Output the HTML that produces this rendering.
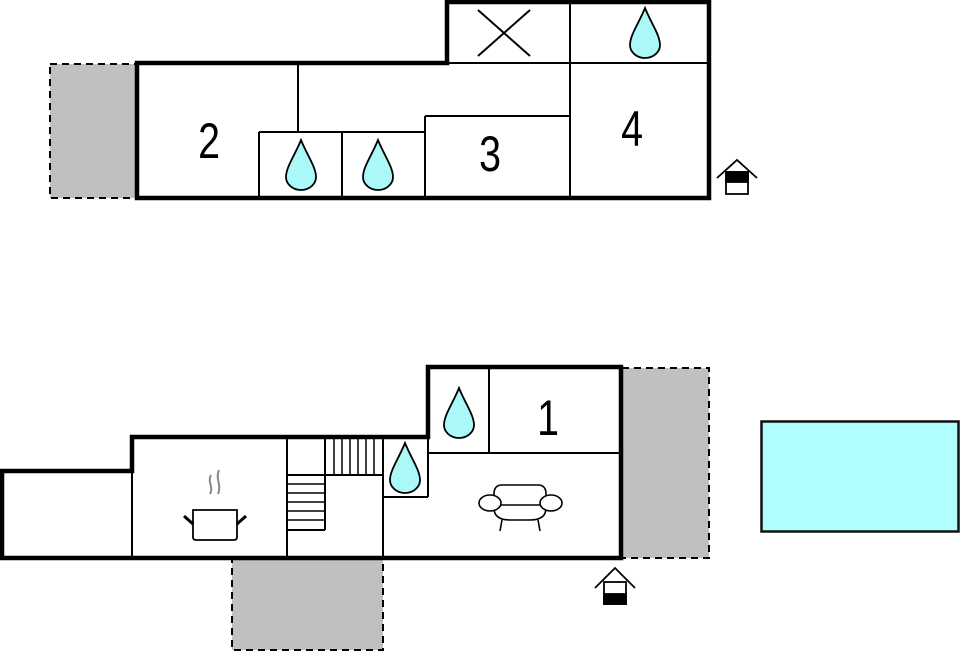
<!DOCTYPE html>
<html><head><meta charset="utf-8"><style>html,body{margin:0;padding:0;background:#fff}svg{display:block}</style></head>
<body>
<svg width="961" height="652" viewBox="0 0 961 652" xmlns="http://www.w3.org/2000/svg">
<defs>
<path id="drop" d="M0,-25 C-6,-10 -15,2 -15,12 A15,13 0 0 0 15,12 C15,2 6,-10 0,-25 Z" fill="#aaf8f8" stroke="#000" stroke-width="1.8"/>
</defs>
<!-- TOP -->
<rect x="50" y="64" width="87" height="134" fill="#c0c0c0" stroke="#000" stroke-width="2" stroke-dasharray="7,5"/>
<rect x="137" y="63" width="572" height="135" fill="#fff"/>
<rect x="447" y="2" width="262" height="61" fill="#fff"/>
<g stroke="#000" stroke-width="2" fill="none">
<line x1="447" y1="63" x2="709" y2="63"/>
<line x1="570" y1="2" x2="570" y2="198"/>
<line x1="298" y1="63" x2="298" y2="132"/>
<line x1="259" y1="132" x2="425" y2="132"/>
<line x1="259" y1="132" x2="259" y2="198"/>
<line x1="342" y1="132" x2="342" y2="198"/>
<line x1="425" y1="116" x2="425" y2="198"/>
<line x1="425" y1="116" x2="570" y2="116"/>
<line x1="478" y1="10" x2="530" y2="56"/>
<line x1="530" y1="10" x2="478" y2="56"/>
</g>
<path d="M137,63 H447 V2 H709 V198 H137 Z" fill="none" stroke="#000" stroke-width="4.5"/>
<use href="#drop" x="645" y="33"/>
<use href="#drop" x="301" y="165"/>
<use href="#drop" x="378" y="165"/>
<g font-family="Liberation Sans, sans-serif" font-size="48" text-anchor="middle" fill="#000">
<text transform="translate(209,158) scale(0.82,1.05)">2</text>
<text transform="translate(490,171) scale(0.82,1.05)">3</text>
<text transform="translate(632,146) scale(0.82,1.05)">4</text>
</g>
<!-- top house icon -->
<g stroke="#000" stroke-width="1.8" fill="none">
<path d="M717,178 L737,160 L757,178"/>
<rect x="726" y="172" width="22" height="22" fill="#fff"/>
<rect x="726" y="172" width="22" height="10" fill="#000"/>
</g>
<!-- BOTTOM -->
<rect x="622" y="368" width="87" height="190" fill="#c0c0c0" stroke="#000" stroke-width="2" stroke-dasharray="7,5"/>
<rect x="232" y="559" width="151" height="91" fill="#c0c0c0" stroke="#000" stroke-width="2" stroke-dasharray="7,5"/>
<path d="M2,471 H132 V437 H428 V367 H621 V558 H2 Z" fill="#fff"/>
<g stroke="#000" stroke-width="2" fill="none">
<line x1="132" y1="471" x2="132" y2="558"/>
<line x1="287" y1="437" x2="287" y2="558"/>
<line x1="383" y1="437" x2="383" y2="558"/>
<line x1="489" y1="367" x2="489" y2="453"/>
<line x1="428" y1="453" x2="621" y2="453"/>
<line x1="383" y1="497" x2="428" y2="497"/>
<line x1="428" y1="437" x2="428" y2="497"/>
<!-- stairs -->
<line x1="287" y1="475" x2="325" y2="475"/>
<line x1="325" y1="437" x2="325" y2="530"/>
<line x1="325" y1="475" x2="383" y2="475"/>
<line x1="334" y1="437" x2="334" y2="475" stroke-width="1.5"/>
<line x1="342" y1="437" x2="342" y2="475" stroke-width="1.5"/>
<line x1="350" y1="437" x2="350" y2="475" stroke-width="1.5"/>
<line x1="358" y1="437" x2="358" y2="475" stroke-width="1.5"/>
<line x1="366" y1="437" x2="366" y2="475" stroke-width="1.5"/>
<line x1="374" y1="437" x2="374" y2="475" stroke-width="1.5"/>
<line x1="287" y1="530" x2="325" y2="530"/>
<line x1="287" y1="484" x2="325" y2="484" stroke-width="1.5"/>
<line x1="287" y1="493" x2="325" y2="493" stroke-width="1.5"/>
<line x1="287" y1="502" x2="325" y2="502" stroke-width="1.5"/>
<line x1="287" y1="511" x2="325" y2="511" stroke-width="1.5"/>
<line x1="287" y1="520" x2="325" y2="520" stroke-width="1.5"/>
</g>
<path d="M2,471 H132 V437 H428 V367 H621 V558 H2 Z" fill="none" stroke="#000" stroke-width="4.5"/>
<use href="#drop" x="459" y="413"/>
<use href="#drop" x="405" y="468"/>
<text transform="translate(548,435) scale(0.82,1.05)" font-family="Liberation Sans, sans-serif" font-size="48" text-anchor="middle" fill="#000">1</text>
<!-- pot -->
<g stroke="#888" stroke-width="2" fill="none">
<path d="M211,475 C207,482 214,487 210,494"/>
<path d="M219,470 C215,479 222,485 218,494"/>
</g>
<g stroke="#000" fill="none">
<path d="M193,510 H237 V537 Q237,540 234,540 H196 Q193,540 193,537 Z" stroke-width="1.8"/>
<line x1="184" y1="516" x2="193" y2="524" stroke-width="3"/>
<line x1="246" y1="516" x2="237" y2="524" stroke-width="3"/>
</g>
<!-- sofa -->
<g stroke="#000" stroke-width="1.6" fill="#fff">
<path d="M494,508 V494 Q494,485 502,485 H538 Q546,485 546,494 V508 Q546,520 530,520 H510 Q494,520 494,508 Z"/>
<line x1="499" y1="505" x2="541" y2="505"/>
<ellipse cx="490" cy="503" rx="11" ry="8"/>
<ellipse cx="551" cy="503" rx="11" ry="8"/>
<line x1="502" y1="520" x2="500" y2="531"/>
<line x1="538" y1="520" x2="540" y2="531"/>
</g>
<!-- bottom house icon -->
<g stroke="#000" stroke-width="1.8" fill="none">
<path d="M595,588 L615,568 L635,588"/>
<rect x="604" y="582" width="22" height="22" fill="#fff"/>
<rect x="604" y="594" width="22" height="10" fill="#000"/>
</g>
<!-- pool -->
<rect x="761.5" y="421.5" width="197" height="110" fill="#b0ffff" stroke="#111" stroke-width="2.5"/>
</svg>
</body></html>
